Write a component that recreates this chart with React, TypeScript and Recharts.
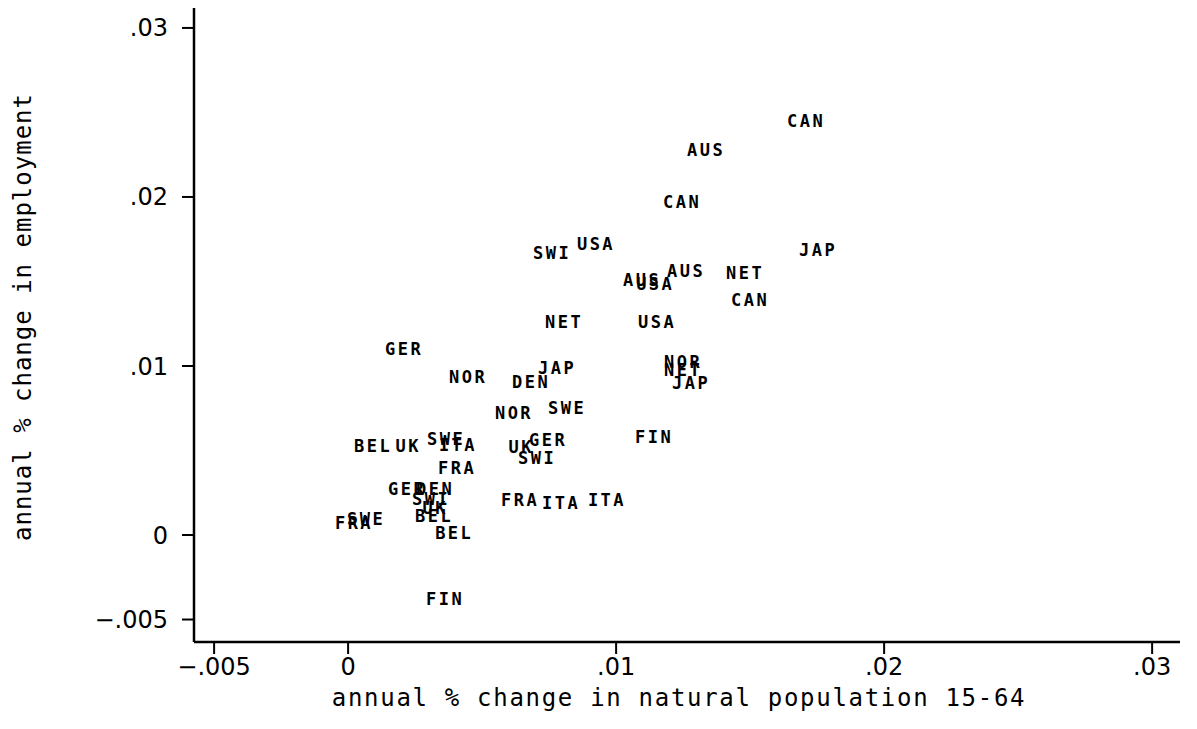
import React from "react";
import { ScatterChart, Scatter, XAxis, YAxis, Label } from "recharts";

// country codes, one per point (three periods per country, some missing)
const labels = [
  "CAN", "AUS", "CAN", "JAP", "SWI", "USA", "AUS", "AUS", "USA", "NET",
  "CAN", "NET", "USA", "GER", "NOR", "DEN", "JAP", "NOR", "NET", "JAP",
  "NOR", "SWE", "FIN", "BEL", "UK", "SWE", "ITA", "UK", "GER", "SWI",
  "FRA", "GER", "DEN", "SWI", "UK", "BEL", "BEL", "FRA", "SWE", "FRA",
  "ITA", "ITA", "FIN",
];

// annual % change in natural population 15-64
const popChange = [
  0.01709, 0.01336, 0.01246, 0.01754, 0.00761, 0.00925, 0.01261, 0.01097, 0.01146, 0.01481,
  0.015, 0.00806, 0.01153, 0.00209, 0.00448, 0.00683, 0.0078, 0.0125, 0.0125, 0.0128,
  0.00619, 0.00817, 0.01142, 0.00093, 0.00224, 0.00366, 0.0041, 0.00646, 0.00746, 0.00705,
  0.00407, 0.0022, 0.00325, 0.0031, 0.00325, 0.00321, 0.00396, 0.00022, 0.00067, 0.00642,
  0.00795, 0.00966, 0.00362,
];

// annual % change in employment
const empChange = [
  0.0245, 0.02278, 0.0197, 0.01686, 0.01669, 0.01722, 0.01562, 0.01509, 0.01485, 0.0155,
  0.01391, 0.0126, 0.0126, 0.01101, 0.00935, 0.00905, 0.00988, 0.01024, 0.00976, 0.00899,
  0.00722, 0.00751, 0.0058, 0.00527, 0.00527, 0.00568, 0.00533, 0.00521, 0.00562, 0.00456,
  0.00396, 0.00272, 0.00272, 0.00213, 0.0016, 0.00112, 0.00012, 0.00071, 0.00095, 0.00207,
  0.00189, 0.00207, -0.00379,
];

const xTicks = [-0.005, 0, 0.01, 0.02, 0.03];
const yTicks = [-0.005, 0, 0.01, 0.02, 0.03];

const xTitle = "annual % change in natural population 15-64";
const yTitle = "annual % change in employment";

const data = labels.map((label, i) => ({ label, x: popChange[i], y: empChange[i] }));

// stata style: drop the leading zero, real minus sign
const fmt = (v: number) =>
  v === 0 ? "0" : (v < 0 ? "\u2212" : "") + String(Math.abs(v)).replace(/^0/, "");

const tickFont = { fontFamily: "DejaVu Sans", fontSize: 24, fill: "#000" };
const titleFont = "DejaVu Sans Mono";

function CodeMark(props: any) {
  const { cx, cy, payload } = props;
  return (
    <text
      x={cx}
      y={cy}
      dy="0.36em"
      textAnchor="middle"
      fontFamily={titleFont}
      fontWeight="bold"
      fontSize={17}
      letterSpacing={2.5}
      fill="#000"
    >
      {payload.label}
    </text>
  );
}

function XTitle(props: any) {
  const vb = props.viewBox || { x: 194, y: 642, width: 986, height: 87 };
  return (
    <text
      x={vb.x + vb.width / 2 - 8}
      y={vb.y + 64}
      textAnchor="middle"
      fontFamily={titleFont}
      fontSize={24}
      letterSpacing={1.7}
      fill="#000"
    >
      {xTitle}
    </text>
  );
}

function YTitle(props: any) {
  const vb = props.viewBox || { x: 0, y: 8, width: 194, height: 634 };
  const cx = vb.x + 31;
  const cy = vb.y + vb.height / 2 - 8;
  return (
    <text
      x={cx}
      y={cy}
      transform={`rotate(-90, ${cx}, ${cy})`}
      textAnchor="middle"
      fontFamily={titleFont}
      fontSize={24}
      letterSpacing={1}
      fill="#000"
    >
      {yTitle}
    </text>
  );
}

export default function App() {
  return (
    <div style={{ position: "absolute", left: 0, top: 0, background: "#fff" }}>
      <ScatterChart width={1197} height={729} margin={{ top: 8, right: 17, bottom: 0, left: 0 }}>
        <XAxis
          type="number"
          dataKey="x"
          domain={[-0.00575, 0.03104]}
          ticks={xTicks}
          tickFormatter={fmt}
          allowDataOverflow
          height={87}
          axisLine={{ stroke: "#000", strokeWidth: 2.5 }}
          tickLine={{ stroke: "#000", strokeWidth: 2 }}
          tickSize={12}
          tickMargin={4}
          tick={tickFont}
        >
          <Label content={<XTitle />} />
        </XAxis>
        <YAxis
          type="number"
          dataKey="y"
          domain={[-0.00633, 0.03118]}
          ticks={yTicks}
          tickFormatter={fmt}
          allowDataOverflow
          width={194}
          axisLine={{ stroke: "#000", strokeWidth: 2.5 }}
          tickLine={{ stroke: "#000", strokeWidth: 2 }}
          tickSize={12}
          tickMargin={14}
          tick={tickFont}
        >
          <Label content={<YTitle />} />
        </YAxis>
        <Scatter data={data} shape={<CodeMark />} isAnimationActive={false} />
      </ScatterChart>
    </div>
  );
}
